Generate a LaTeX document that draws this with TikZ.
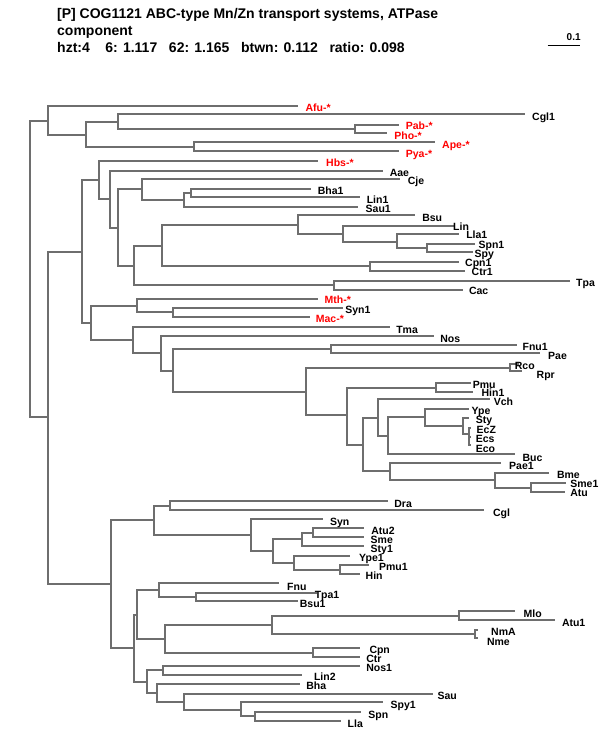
\documentclass[tikz,border=0pt]{standalone}
\usepackage{fontspec}
\setmainfont{Liberation Sans}
\definecolor{treegray}{RGB}{110,110,110}

\begin{document}
\begin{tikzpicture}[x=1pt,y=-1pt,
	branch/.style={draw=treegray,line width=2pt,to path={|- (\tikztotarget)}},
	taxon/.style={anchor=west,inner sep=0pt,text height=7.5pt,text depth=0pt,
		font=\fontsize{10.5}{10.5}\selectfont\bfseries},
	arch/.style={taxon,text=red},
	head/.style={anchor=base west,inner sep=0pt,font=\fontsize{14}{14}\selectfont\bfseries}]
	
	\useasboundingbox (0,0) rectangle (600,750);
	
	% header and scale bar
	\node[head] (title1) at (57,18) {[P] COG1121 ABC-type Mn/Zn transport systems, ATPase};
	\node[head] (title2) at (57,35) {component};
	\node[head] (title3) at (57,52) {hzt:4\ \ \ \ 6: 1.117\ \ \ 62: 1.165\ \ \ btwn: 0.112\ \ \ ratio: 0.098};
	\coordinate (sbL) at (547.7,45.7);
	\coordinate (sbR) at (580,45.7);
	\draw[line width=1.2pt] (sbL) -- (sbR);
	\node[anchor=west,inner sep=0pt,font=\fontsize{10}{10}\selectfont\bfseries] (scale) at (566.5,37) {0.1};
	
	% inner nodes
	\coordinate (root) at (29.9,269);
	\coordinate (nA) at (47.5,120.7);
	\coordinate (nB) at (86.1,134.8);
	\coordinate (nC) at (117.9,122);
	\coordinate (nD) at (354.8,129);
	\coordinate (nE) at (194.4,146.8);
	\coordinate (nL) at (47.5,417.3);
	\coordinate (nM) at (81.5,251.7);
	\coordinate (nN) at (98.7,179.8);
	\coordinate (nP) at (110.2,199);
	\coordinate (nQ) at (117.9,227.8);
	\coordinate (nR) at (142.4,189.3);
	\coordinate (nT) at (184.1,200);
	\coordinate (nU) at (190.6,193);
	\coordinate (nS) at (133.9,265.7);
	\coordinate (nV) at (161.5,245.5);
	\coordinate (nX) at (298.1,224.7);
	\coordinate (nX2) at (343.3,234);
	\coordinate (nX3) at (396.9,241.7);
	\coordinate (nX4) at (426.7,248.2);
	\coordinate (nY) at (370.1,266.2);
	\coordinate (nW) at (334.1,285.3);
	\coordinate (nF) at (90.7,322.5);
	\coordinate (nG) at (137,305.8);
	\coordinate (nH) at (173.4,312.3);
	\coordinate (nI) at (133.2,339.5);
	\coordinate (nJ) at (160.7,353.2);
	\coordinate (nK) at (173.4,370.5);
	\coordinate (nK1) at (331,349.2);
	\coordinate (nK2) at (306.2,391.7);
	\coordinate (nK3) at (510.1,367.5);
	\coordinate (nK4) at (347.1,415.2);
	\coordinate (nK5) at (436.3,387.5);
	\coordinate (nK6) at (362.8,444.7);
	\coordinate (nK7) at (378.1,417.7);
	\coordinate (nK8) at (388.4,436);
	\coordinate (nK9) at (424.8,417.4);
	\coordinate (nK10) at (463.1,425.7);
	\coordinate (nK11) at (468.8,434.3);
	\coordinate (nK12) at (469.3,440.5);
	\coordinate (nK13) at (390.4,471.3);
	\coordinate (nK14) at (494.8,480);
	\coordinate (nK15) at (531.2,487.5);
	\coordinate (nZ) at (111.4,584);
	\coordinate (nZ1) at (153.8,520.3);
	\coordinate (nZ3) at (169.5,505.5);
	\coordinate (nZ4) at (250.7,534.8);
	\coordinate (nZ5) at (272.9,551);
	\coordinate (nZ6) at (302.3,539.2);
	\coordinate (nZ8) at (313,532.5);
	\coordinate (nZ7) at (293.9,562.5);
	\coordinate (nZ9) at (339.8,569.5);
	\coordinate (nZ2) at (133.9,648);
	\coordinate (nZ10) at (136.6,614.8);
	\coordinate (nZ12) at (158.8,590);
	\coordinate (nZ14) at (196.3,596.7);
	\coordinate (nZ13) at (164.6,638.7);
	\coordinate (nZ15) at (271.7,624.8);
	\coordinate (nZ17) at (459.2,615.5);
	\coordinate (nZ18) at (475.3,634.2);
	\coordinate (nZ16) at (312.7,652.5);
	\coordinate (nZ11) at (147.3,681.5);
	\coordinate (nZ19) at (162.6,670.3);
	\coordinate (nZ20) at (156.9,692.5);
	\coordinate (nZ21) at (184.1,701.5);
	\coordinate (nZ22) at (241.1,709.5);
	\coordinate (nZ23) at (254.9,716.2);
	
	% tips
	\coordinate (tAfu) at (297.7,105.7);
	\coordinate (tCgl1) at (525.4,114.3);
	\coordinate (tPab) at (399.2,124.7);
	\coordinate (tPho) at (386.5,133.3);
	\coordinate (tApe) at (435.1,142.3);
	\coordinate (tPya) at (399,151.3);
	\coordinate (tHbs) at (317.6,160.7);
	\coordinate (tAae) at (382.7,170.7);
	\coordinate (tCje) at (399.9,179.3);
	\coordinate (tBha1) at (310.8,189);
	\coordinate (tLin1) at (359.7,197.3);
	\coordinate (tSau1) at (357.8,206.7);
	\coordinate (tBsu) at (414.5,215.3);
	\coordinate (tLin) at (455.4,226);
	\coordinate (tLla1) at (459.2,234.3);
	\coordinate (tSpn1) at (474.5,244);
	\coordinate (tSpy) at (473.4,252.3);
	\coordinate (tCpn1) at (458.5,261.7);
	\coordinate (tCtr1) at (465,270.7);
	\coordinate (tTpa) at (570.2,280.7);
	\coordinate (tCac) at (463.1,290);
	\coordinate (tMth) at (317.6,298.7);
	\coordinate (tSyn1) at (342.5,307.7);
	\coordinate (tMac) at (310,317);
	\coordinate (tTma) at (390.4,326.7);
	\coordinate (tNos) at (434.4,335.7);
	\coordinate (tFnu1) at (516.6,345);
	\coordinate (tPae) at (540.4,353.3);
	\coordinate (tRco) at (518.6,364);
	\coordinate (tRpr) at (522.4,371);
	\coordinate (tPmu) at (470.7,383.3);
	\coordinate (tHin1) at (472.6,391.7);
	\coordinate (tVch) at (489.9,399.3);
	\coordinate (tYpe) at (468.8,409);
	\coordinate (tSty) at (468.8,417.7);
	\coordinate (tEcZ) at (471,428.3);
	\coordinate (tEcs) at (470.5,437);
	\coordinate (tEco) at (470.5,444.5);
	\coordinate (tBuc) at (514.7,454.3);
	\coordinate (tPae1) at (501.3,463.3);
	\coordinate (tBme) at (549.2,473.3);
	\coordinate (tSme1) at (566.4,483.3);
	\coordinate (tAtu) at (564.5,491.7);
	\coordinate (tDra) at (388.4,501);
	\coordinate (tCgl) at (484.1,510);
	\coordinate (tSyn) at (323.4,519);
	\coordinate (tAtu2) at (363.6,528.3);
	\coordinate (tSme) at (363.6,536.7);
	\coordinate (tSty1) at (363.6,546);
	\coordinate (tYpe1) at (350.2,555.7);
	\coordinate (tPmu1) at (369.3,565);
	\coordinate (tHin) at (359.7,574);
	\coordinate (tFnu) at (279.4,583.3);
	\coordinate (tTpa1) at (316.9,592.7);
	\coordinate (tBsu1) at (297.7,600.7);
	\coordinate (tMlo) at (514.7,611);
	\coordinate (tAtu1) at (554.9,620);
	\coordinate (tNmA) at (478.4,630);
	\coordinate (tNme) at (478.4,638.3);
	\coordinate (tCpn) at (359.7,648.3);
	\coordinate (tCtr) at (359.7,656.7);
	\coordinate (tNos1) at (359.7,665.7);
	\coordinate (tLin2) at (301.6,675);
	\coordinate (tBha) at (300.4,684.3);
	\coordinate (tSau) at (432.5,694);
	\coordinate (tSpy1) at (382.7,702.3);
	\coordinate (tSpn) at (360.9,711.7);
	\coordinate (tLla) at (340.6,720.7);
	
	% branches
	\path[every edge/.style={branch}]
	(root) edge (nA) edge (nL)
	(nA) edge (tAfu) edge (nB)
	(nB) edge (nC) edge (nE)
	(nC) edge (tCgl1) edge (nD)
	(nD) edge (tPab) edge (tPho)
	(nE) edge (tApe) edge (tPya)
	(nL) edge (nM) edge (nZ)
	(nM) edge (nN) edge (nF)
	(nN) edge (tHbs) edge (nP)
	(nP) edge (tAae) edge (nQ)
	(nQ) edge (nR) edge (nS)
	(nR) edge (tCje) edge (nT)
	(nT) edge (nU) edge (tSau1)
	(nU) edge (tBha1) edge (tLin1)
	(nS) edge (nV) edge (nW)
	(nV) edge (nX) edge (nY)
	(nX) edge (tBsu) edge (nX2)
	(nX2) edge (tLin) edge (nX3)
	(nX3) edge (tLla1) edge (nX4)
	(nX4) edge (tSpn1) edge (tSpy)
	(nY) edge (tCpn1) edge (tCtr1)
	(nW) edge (tTpa) edge (tCac)
	(nF) edge (nG) edge (nI)
	(nG) edge (tMth) edge (nH)
	(nH) edge (tSyn1) edge (tMac)
	(nI) edge (tTma) edge (nJ)
	(nJ) edge (tNos) edge (nK)
	(nK) edge (nK1) edge (nK2)
	(nK1) edge (tFnu1) edge (tPae)
	(nK2) edge (nK3) edge (nK4)
	(nK3) edge (tRco) edge (tRpr)
	(nK4) edge (nK5) edge (nK6)
	(nK5) edge (tPmu) edge (tHin1)
	(nK6) edge (nK7) edge (nK13)
	(nK7) edge (tVch) edge (nK8)
	(nK8) edge (nK9) edge (tBuc)
	(nK9) edge (tYpe) edge (nK10)
	(nK10) edge (tSty) edge (nK11)
	(nK11) edge (tEcZ) edge (nK12)
	(nK12) edge (tEcs) edge (tEco)
	(nK13) edge (tPae1) edge (nK14)
	(nK14) edge (tBme) edge (nK15)
	(nK15) edge (tSme1) edge (tAtu)
	(nZ) edge (nZ1) edge (nZ2)
	(nZ1) edge (nZ3) edge (nZ4)
	(nZ3) edge (tDra) edge (tCgl)
	(nZ4) edge (tSyn) edge (nZ5)
	(nZ5) edge (nZ6) edge (nZ7)
	(nZ6) edge (nZ8) edge (tSty1)
	(nZ8) edge (tAtu2) edge (tSme)
	(nZ7) edge (tYpe1) edge (nZ9)
	(nZ9) edge (tPmu1) edge (tHin)
	(nZ2) edge (nZ10) edge (nZ11)
	(nZ10) edge (nZ12) edge (nZ13)
	(nZ12) edge (tFnu) edge (nZ14)
	(nZ14) edge (tTpa1) edge (tBsu1)
	(nZ13) edge (nZ15) edge (nZ16)
	(nZ15) edge (nZ17) edge (nZ18)
	(nZ17) edge (tMlo) edge (tAtu1)
	(nZ18) edge (tNmA) edge (tNme)
	(nZ16) edge (tCpn) edge (tCtr)
	(nZ11) edge (nZ19) edge (nZ20)
	(nZ19) edge (tNos1) edge (tLin2)
	(nZ20) edge (tBha) edge (nZ21)
	(nZ21) edge (tSau) edge (nZ22)
	(nZ22) edge (tSpy1) edge (nZ23)
	(nZ23) edge (tSpn) edge (tLla);
	
	% labels
	\node[arch] (lAfu) at (305.4,107.3) {Afu-*};
	\node[taxon] (lCgl1) at (532,116.7) {Cgl1};
	\node[arch] (lPab) at (405.7,126) {Pab-*};
	\node[arch] (lPho) at (394.2,136) {Pho-*};
	\node[arch] (lApe) at (442,144.3) {Ape-*};
	\node[arch] (lPya) at (405.7,153.3) {Pya-*};
	\node[arch] (lHbs) at (326,162.3) {Hbs-*};
	\node[taxon] (lAae) at (389.6,172.3) {Aae};
	\node[taxon] (lCje) at (407.6,181) {Cje};
	\node[taxon] (lBha1) at (317.6,190.7) {Bha1};
	\node[taxon] (lLin1) at (366.6,199.3) {Lin1};
	\node[taxon] (lSau1) at (365.5,208.3) {Sau1};
	\node[taxon] (lBsu) at (422.1,217.3) {Bsu};
	\node[taxon] (lLin) at (453,226.7) {Lin};
	\node[taxon] (lLla1) at (466.1,235) {Lla1};
	\node[taxon] (lSpn1) at (478.4,245) {Spn1};
	\node[taxon] (lSpy) at (474.5,253.3) {Spy};
	\node[taxon] (lCpn1) at (465,262.7) {Cpn1};
	\node[taxon] (lCtr1) at (471.5,271.7) {Ctr1};
	\node[taxon] (lTpa) at (576,282.3) {Tpa};
	\node[taxon] (lCac) at (468.8,291) {Cac};
	\node[arch] (lMth) at (324.5,300) {Mth-*};
	\node[taxon] (lSyn1) at (345.2,310) {Syn1};
	\node[arch] (lMac) at (315.7,319) {Mac-*};
	\node[taxon] (lTma) at (396.1,329.3) {Tma};
	\node[taxon] (lNos) at (440.1,338.3) {Nos};
	\node[taxon] (lFnu1) at (522.4,346.7) {Fnu1};
	\node[taxon] (lPae) at (548,355.7) {Pae};
	\node[taxon] (lRco) at (514.7,366) {Rco};
	\node[taxon] (lRpr) at (536.5,374.3) {Rpr};
	\node[taxon] (lPmu) at (472.6,384.3) {Pmu};
	\node[taxon] (lHin1) at (481.4,392.7) {Hin1};
	\node[taxon] (lVch) at (493.7,401.7) {Vch};
	\node[taxon] (lYpe) at (471.5,410.7) {Ype};
	\node[taxon] (lSty) at (475.7,420) {Sty};
	\node[taxon] (lEcZ) at (476.5,429.3) {EcZ};
	\node[taxon] (lEcs) at (475.7,439) {Ecs};
	\node[taxon] (lEco) at (475.7,448.3) {Eco};
	\node[taxon] (lBuc) at (522.4,457.3) {Buc};
	\node[taxon] (lPae1) at (509,466) {Pae1};
	\node[taxon] (lBme) at (556.8,475) {Bme};
	\node[taxon] (lSme1) at (570.2,483.3) {Sme1};
	\node[taxon] (lAtu) at (570.2,492.3) {Atu};
	\node[taxon] (lDra) at (394.2,503.3) {Dra};
	\node[taxon] (lCgl) at (492.9,512.3) {Cgl};
	\node[taxon] (lSyn) at (329.9,521.7) {Syn};
	\node[taxon] (lAtu2) at (371.2,531) {Atu2};
	\node[taxon] (lSme) at (370.5,540) {Sme};
	\node[taxon] (lSty1) at (370.5,549) {Sty1};
	\node[taxon] (lYpe1) at (359,557.7) {Ype1};
	\node[taxon] (lPmu1) at (378.9,566.7) {Pmu1};
	\node[taxon] (lHin) at (365.5,575.7) {Hin};
	\node[taxon] (lFnu) at (287,586.7) {Fnu};
	\node[taxon] (lTpa1) at (314.6,595) {Tpa1};
	\node[taxon] (lBsu1) at (299.7,604) {Bsu1};
	\node[taxon] (lMlo) at (523.5,613.3) {Mlo};
	\node[taxon] (lAtu1) at (561.8,622.7) {Atu1};
	\node[taxon] (lNmA) at (491,632.2) {NmA};
	\node[taxon] (lNme) at (486.8,641.3) {Nme};
	\node[taxon] (lCpn) at (369.3,650.2) {Cpn};
	\node[taxon] (lCtr) at (366.2,658.8) {Ctr};
	\node[taxon] (lNos1) at (366.2,667.9) {Nos1};
	\node[taxon] (lLin2) at (313.8,676.7) {Lin2};
	\node[taxon] (lBha) at (306.2,686) {Bha};
	\node[taxon] (lSau) at (437.4,696) {Sau};
	\node[taxon] (lSpy1) at (390.4,705) {Spy1};
	\node[taxon] (lSpn) at (368.2,714.3) {Spn};
	\node[taxon] (lLla) at (347.5,723.3) {Lla};
\end{tikzpicture}
\end{document}
